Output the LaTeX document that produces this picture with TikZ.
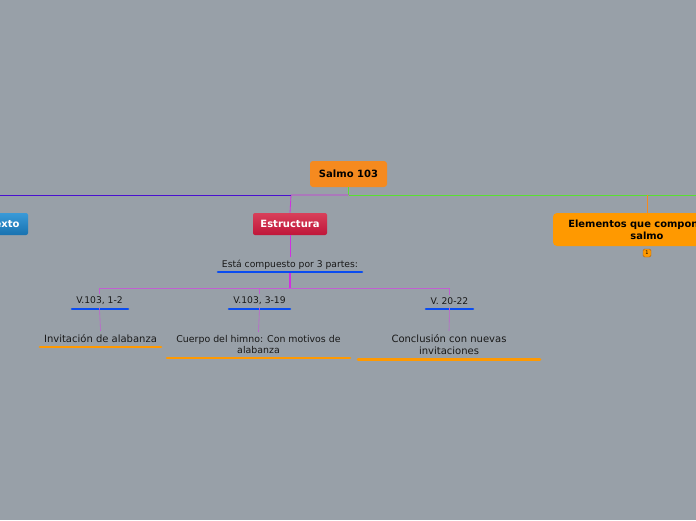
\documentclass[tikz,border=0pt]{standalone}
\usepackage{fontspec}
\setmainfont{DejaVu Sans}
\usetikzlibrary{positioning}
\definecolor{fondo}{HTML}{98A0A8}
\definecolor{naranja}{HTML}{F58A1F}
\definecolor{naranjab}{HTML}{FF9900}
\definecolor{rojoa}{HTML}{D8405A}
\definecolor{rojob}{HTML}{C0163A}
\definecolor{azula}{HTML}{3A9AD8}
\definecolor{azulb}{HTML}{1872B0}
\definecolor{lineaverde}{HTML}{5AE030}
\definecolor{lineaazul}{HTML}{4A10D0}
\definecolor{lineamag}{HTML}{D030E0}
\definecolor{lineasub}{HTML}{C060D0}
\definecolor{subraya}{HTML}{0A4CF0}
\tikzset{
  centro/.style={rounded corners=3pt, fill=naranja, font=\fontsize{10}{12}\selectfont\bfseries,
    minimum width=77pt, minimum height=26pt},
  rama/.style={rounded corners=2pt, font=\fontsize{10}{12}\selectfont\bfseries, text=white,
    minimum height=22pt},
  elem/.style={rounded corners=4pt, fill=naranjab, font=\fontsize{9.9}{12}\selectfont\bfseries,
    align=center, minimum width=188pt, minimum height=33pt},
  parte/.style={anchor=south, inner xsep=0pt, inner ysep=3pt, text=black!90,
    font=\fontsize{9.2}{11}\selectfont},
  hoja/.style={anchor=south, inner xsep=0pt, inner ysep=3pt, text=black!90, align=center,
    font=\fontsize{10}{12.5}\selectfont},
  uazul/.style={subraya, line width=2.6pt, line cap=round},
  unaranja/.style={naranjab, line width=2.6pt, line cap=round},
  cmag/.style={lineamag, line width=0.8pt},
  csub/.style={lineasub, line width=0.6pt}
}
\begin{document}
\begin{tikzpicture}[x=1pt,y=-1pt]
\useasboundingbox (0,0) rectangle (696,520);
\fill[fondo] (0,0) rectangle (696,520);
\clip (0,0) rectangle (696,520);

% tema central y ramas
\node[centro] (salmo) at (348.5,174) {Salmo 103};
\coordinate (raiz) at (348.5,195);
\coordinate (codo) at (291,195);
\node[rama, top color=azula, bottom color=azulb, minimum width=68pt] (contexto) at (-6,224) {Contexto};
\node[rama, top color=rojoa, bottom color=rojob, minimum width=74pt] (estructura) at (290,224) {Estructura};
\node[elem] (elementos) at (647,229.5) {Elementos que componen el\\salmo};
\node[draw=naranja!70!black, fill=naranjab, rounded corners=1.5pt, inner sep=0.8pt,
  minimum size=8pt, font=\fontsize{5}{5}\selectfont] (nota) at (647,253) {1};

\draw[lineaverde, line width=1pt] (salmo.south) -- (raiz);
\draw[lineaverde, line width=0.6pt] (raiz) -- (696,195);
\draw[naranja, line width=0.6pt] (elementos.north |- raiz) -- (elementos.north);
\draw[cmag] (raiz) -- (codo) -- (estructura.north);
\draw[lineaazul, line width=0.8pt] (codo) -- (contexto.north |- raiz) -- (contexto.north);

% estructura
\node[parte] (partes) at (290,273) {Está compuesto por 3 partes:};
\draw[uazul] (218,272) -- (362,272);
\draw[cmag] (estructura.south) -- (partes.north);

\node[parte] (v1) at (99.5,308) {V.103, 1-2};
\node[parte] (v2) at (259.5,308) {V.103, 3-19};
\node[parte] (v3) at (449.5,308) {V. 20-22};
\draw[uazul] (72,309) -- (128,309);
\draw[uazul] (229,309) -- (290,309);
\draw[uazul] (426,309) -- (473,309);

\path (partes.south) ++(0,15) coordinate (reparto);
\draw[lineamag, line width=1.2pt] (partes.south) -- (reparto);
\draw[csub] (reparto) -| (v1.north);
\draw[csub] (reparto) -| (v3.north);
\draw[csub] (v2.north |- reparto) -- (v2.north);

\node[hoja] (invitacion) at (100.5,345.5) {Invitación de alabanza};
\node[hoja, font=\fontsize{9.4}{11.5}\selectfont] (cuerpo) at (258.5,357) {Cuerpo del himno: Con motivos de\\alabanza};
\node[hoja] (conclusion) at (449,358) {Conclusión con nuevas\\invitaciones};
\draw[unaranja] (40,347) -- (161,347);
\draw[unaranja] (167,358) -- (350,358);
\draw[unaranja] (358,359.5) -- (540,359.5);

\draw[csub] (v1.south) -- (invitacion.north);
\draw[csub] (v2.south) -- (cuerpo.north);
\draw[csub] (v3.south) -- (conclusion.north);
\end{tikzpicture}
\end{document}
